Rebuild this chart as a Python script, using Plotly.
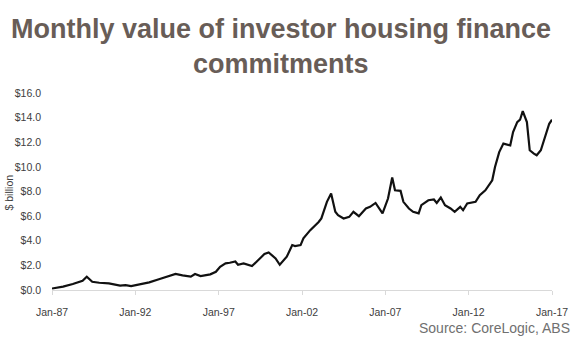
import plotly.graph_objects as go

# Data ($ billion, monthly)
dates = [
    "1987-01", "1987-09", "1988-04", "1988-11", "1989-02", "1989-06", "1989-11",
    "1990-06", "1991-02", "1991-06", "1991-10", "1992-04", "1992-11", "1993-06",
    "1993-12", "1994-06", "1994-11", "1995-05", "1995-08", "1995-12", "1996-07",
    "1996-11", "1997-02", "1997-06", "1997-09", "1998-01", "1998-03", "1998-07",
    "1999-01", "1999-05", "1999-10", "2000-01", "2000-03", "2000-06", "2000-09",
    "2000-12", "2001-02", "2001-06", "2001-08", "2001-12", "2002-02", "2002-07",
    "2002-11", "2003-01", "2003-03", "2003-07", "2003-10", "2004-01", "2004-03",
    "2004-07", "2004-11", "2005-02", "2005-06", "2005-11", "2006-02", "2006-06",
    "2006-11", "2007-03", "2007-06", "2007-08", "2007-12", "2008-02", "2008-06",
    "2008-09", "2009-01", "2009-03", "2009-08", "2009-12", "2010-02", "2010-05",
    "2010-08", "2010-12", "2011-03", "2011-07", "2011-09", "2011-12", "2012-06",
    "2012-09", "2013-01", "2013-06", "2013-08", "2013-11", "2014-02", "2014-07",
    "2014-09", "2014-12", "2015-02", "2015-04", "2015-07", "2015-08", "2015-09",
    "2015-12", "2016-02", "2016-05", "2016-07", "2016-09", "2016-11", "2017-01",
]
values = [
    0.12, 0.27, 0.49, 0.75, 1.08, 0.67, 0.59,
    0.54, 0.35, 0.40, 0.32, 0.46, 0.62, 0.87,
    1.08, 1.30, 1.19, 1.08, 1.30, 1.13, 1.27,
    1.48, 1.89, 2.16, 2.21, 2.32, 2.05, 2.16,
    1.94, 2.37, 2.92, 3.05, 2.84, 2.57, 2.05,
    2.43, 2.70, 3.65, 3.57, 3.65, 4.19, 4.86,
    5.27, 5.53, 5.81, 7.16, 7.84, 6.35, 6.08,
    5.81, 5.94, 6.35, 6.00, 6.62, 6.75, 7.07,
    6.22, 7.43, 9.13, 8.10, 8.05, 7.16, 6.62,
    6.35, 6.22, 6.89, 7.29, 7.35, 7.07, 7.51,
    6.89, 6.62, 6.35, 6.75, 6.48, 7.03, 7.16,
    7.70, 8.10, 8.91, 9.99, 11.20, 11.89, 11.75,
    12.83, 13.64, 13.83, 14.53, 13.64, 12.70, 11.35,
    11.08, 10.94, 11.35, 12.02, 12.70, 13.50, 13.83,
]

x_tick_dates = ["1987-01-01", "1992-01-01", "1997-01-01", "2002-01-01",
                "2007-01-01", "2012-01-01", "2017-01-01"]
x_tick_labels = ["Jan-87", "Jan-92", "Jan-97", "Jan-02", "Jan-07", "Jan-12", "Jan-17"]
y_tick_vals = [0, 2, 4, 6, 8, 10, 12, 14, 16]
y_tick_labels = ["$0.0", "$2.0", "$4.0", "$6.0", "$8.0", "$10.0", "$12.0", "$14.0", "$16.0"]

title_lines = ["Monthly value of investor housing finance", "commitments"]
source_text = "Source: CoreLogic, ABS"
y_title = "$ billion"

W, H = 580, 352
ML, MR, MT, MB = 52, 22, 93, 62
plot_w = W - ML - MR
plot_h = H - MT - MB

def py(ypx):
    return (H - MB - ypx) / plot_h

def px(xpx):
    return (xpx - ML) / plot_w

fig = go.Figure()
fig.add_trace(go.Scatter(
    x=dates, y=values, mode="lines",
    line=dict(color="#111111", width=2.2),
    hoverinfo="skip", showlegend=False,
))

tick_font = dict(family="Liberation Sans, Arial, sans-serif", size=10.5, color="#404040")
title_font = dict(family="Liberation Sans, Arial, sans-serif", size=27, color="#685d57")

fig.update_layout(
    width=W, height=H,
    margin=dict(l=ML, r=MR, t=MT, b=MB, pad=0),
    paper_bgcolor="white", plot_bgcolor="white",
    xaxis=dict(
        type="date",
        range=["1987-01-01", "2017-01-01"],
        tickvals=x_tick_dates, ticktext=x_tick_labels,
        showgrid=False, zeroline=False,
        showline=True, linecolor="#d9d9d9", linewidth=1,
        ticks="outside", ticklen=4, tickcolor="#d9d9d9",
        tickfont=tick_font, ticklabelstandoff=8,
    ),
    yaxis=dict(
        range=[0, 16],
        tickvals=y_tick_vals, ticktext=y_tick_labels,
        showgrid=False, zeroline=False, showline=False,
        ticks="", tickfont=tick_font, ticklabelstandoff=10,
    ),
    annotations=[
        dict(text="<b>%s</b>" % title_lines[0], xref="paper", yref="paper",
             x=px(284), y=py(28.5), xanchor="center", yanchor="middle",
             showarrow=False, font=title_font),
        dict(text="<b>%s</b>" % title_lines[1], xref="paper", yref="paper",
             x=px(284), y=py(64), xanchor="center", yanchor="middle",
             showarrow=False, font=title_font),
        dict(text=source_text, xref="paper", yref="paper",
             x=px(578), y=py(328), xanchor="right", yanchor="middle",
             showarrow=False,
             font=dict(family="Liberation Sans, Arial, sans-serif", size=14, color="#707070")),
        dict(text=y_title, xref="paper", yref="paper",
             x=px(8), y=py(193), xanchor="center", yanchor="middle",
             textangle=-90, showarrow=False,
             font=dict(family="Liberation Sans, Arial, sans-serif", size=10.5, color="#404040")),
    ],
)

fig.write_html("out.html")
